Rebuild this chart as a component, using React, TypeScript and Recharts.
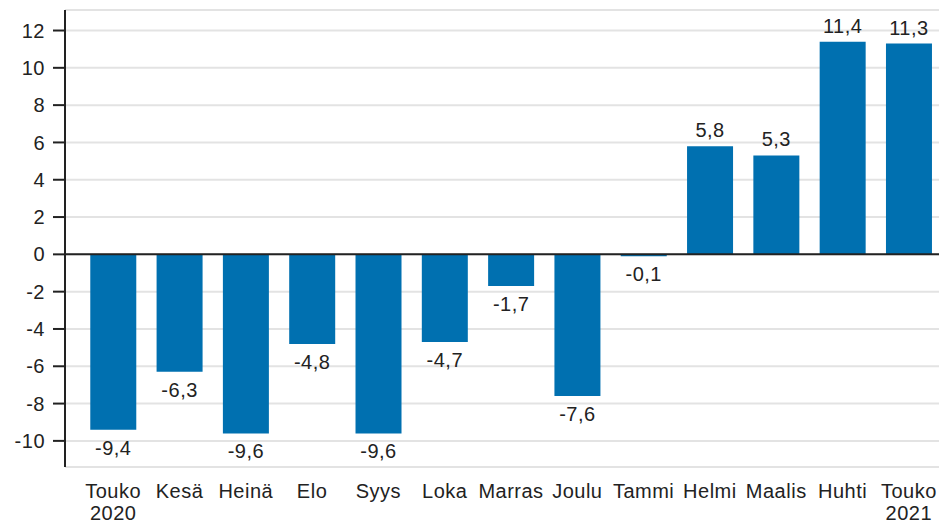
import React from 'react'
import { Bar, BarChart, CartesianGrid, LabelList, ReferenceLine, XAxis, YAxis } from 'recharts'

const months = ['Touko', 'Kesä', 'Heinä', 'Elo', 'Syys', 'Loka', 'Marras', 'Joulu', 'Tammi', 'Helmi', 'Maalis', 'Huhti', 'Touko']
const years = ['2020', '', '', '', '', '', '', '', '', '', '', '', '2021']
const changes = [-9.4, -6.3, -9.6, -4.8, -9.6, -4.7, -1.7, -7.6, -0.1, 5.8, 5.3, 11.4, 11.3]
const yTicks = [-10, -8, -6, -4, -2, 0, 2, 4, 6, 8, 10, 12]

const data = months.map((month, i) => ({ key: `${month}-${i}`, month, year: years[i], value: changes[i] }))

const FONT = '"Liberation Sans", Arial, sans-serif'
const fmt = (v: number) => v.toFixed(1).replace('.', ',')

function MonthTick(props: any) {
  const { x, y, payload } = props
  const row = data[payload.index] || data.find((d) => d.key === payload.value)
  return (
    <g transform={`translate(${x},${y})`}>
      <text textAnchor="middle" fontFamily={FONT} fontSize={20} letterSpacing={0.5} fill="#222">
        <tspan x={0} dy={23}>{row?.month}</tspan>
        {row?.year && <tspan x={0} dy={22}>{row.year}</tspan>}
      </text>
    </g>
  )
}

function ValueLabel(props: any) {
  const { x, y, width, height, value } = props
  const top = Math.min(y, y + height)
  const bottom = Math.max(y, y + height)
  const ty = value >= 0 ? top - 9 : bottom + 25
  return (
    <text x={x + width / 2} y={ty} textAnchor="middle" fontFamily={FONT} fontSize={20} letterSpacing={0.5} fill="#222">
      {fmt(value)}
    </text>
  )
}

export default function App() {
  return (
    <div style={{ position: 'absolute', left: 0, top: 0, background: '#fff' }}>
      <BarChart width={939} height={525} data={data} margin={{ top: 10, right: -3, bottom: 0, left: 0 }} barCategoryGap="15.5%">
        <CartesianGrid vertical={false} stroke="#e3e3e3" strokeWidth={2} />
        <XAxis
          dataKey="key"
          axisLine={false}
          tickLine={false}
          height={58}
          interval={0}
          padding={{ left: 15, right: 0 }}
          tick={<MonthTick />}
        />
        <YAxis
          domain={[-11.4, 13.1]}
          ticks={yTicks}
          width={65}
          interval={0}
          allowDataOverflow
          axisLine={{ stroke: '#222', strokeWidth: 2 }}
          tickLine={{ stroke: '#222', strokeWidth: 2 }}
          tickSize={12}
          tickMargin={8}
          tick={{ fontFamily: FONT, fontSize: 20, fill: '#222', letterSpacing: 0.5 }}
        />
        <ReferenceLine y={0} stroke="#222" strokeWidth={2} />
        <Bar dataKey="value" fill="#0070b0" isAnimationActive={false}>
          <LabelList dataKey="value" content={<ValueLabel />} />
        </Bar>
      </BarChart>
    </div>
  )
}
